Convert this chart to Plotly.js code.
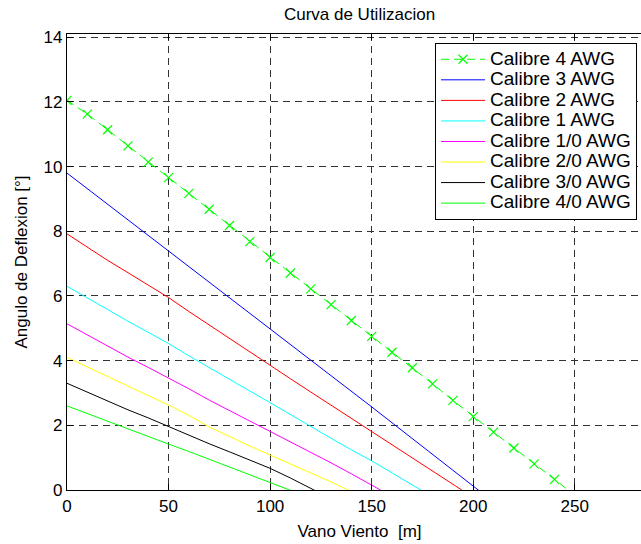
<!DOCTYPE html>
<html>
<head>
<meta charset="utf-8">
<script src="https://cdn.plot.ly/plotly-3.0.1.min.js"></script>
<style>
  html, body { margin: 0; padding: 0; overflow: hidden; background: #fff; }
  #chart { width: 655px; height: 544px; }
</style>
</head>
<body>
<div id="chart"></div>
<script>
// Vano Viento [m]
const vano = [0, 10, 20, 30, 40, 50, 60, 70, 80, 90, 100, 110, 120, 130, 140, 150, 160, 170, 180, 190, 200, 210, 220, 230, 240, 250];

const seriesNames = ['Calibre 4 AWG', 'Calibre 3 AWG', 'Calibre 2 AWG', 'Calibre 1 AWG',
                     'Calibre 1/0 AWG', 'Calibre 2/0 AWG', 'Calibre 3/0 AWG', 'Calibre 4/0 AWG'];

// Angulo de Deflexion [°]
const cal4AWG  = [12.05, 11.62, 11.14, 10.64, 10.14, 9.66, 9.17, 8.68, 8.18, 7.68, 7.19, 6.71, 6.22, 5.73, 5.24, 4.75, 4.26, 3.78, 3.28, 2.77, 2.27, 1.79, 1.30, 0.81, 0.33, -0.16];
const cal3AWG  = [9.80, 9.32, 8.84, 8.36, 7.88, 7.40, 6.92, 6.44, 5.96, 5.48, 5.00, 4.51, 4.03, 3.54, 3.06, 2.57, 2.08, 1.59, 1.10, 0.61, 0.12, -0.37];
const cal2AWG  = [7.92, 7.50, 7.10, 6.72, 6.33, 5.95, 5.52, 5.10, 4.68, 4.26, 3.85, 3.44, 3.03, 2.62, 2.21, 1.80, 1.39, 0.98, 0.58, 0.18, -0.23];
const cal1AWG  = [6.30, 5.93, 5.58, 5.22, 4.88, 4.53, 4.15, 3.78, 3.42, 3.06, 2.70, 2.33, 1.95, 1.60, 1.24, 0.90, 0.53, 0.15, -0.22];
const cal1_0   = [5.14, 4.79, 4.45, 4.11, 3.79, 3.47, 3.13, 2.78, 2.46, 2.14, 1.82, 1.50, 1.17, 0.84, 0.50, 0.15, -0.20];
const cal2_0   = [4.10, 3.80, 3.50, 3.20, 2.92, 2.63, 2.31, 1.95, 1.65, 1.36, 1.08, 0.81, 0.54, 0.25, -0.05];
const cal3_0   = [3.30, 3.02, 2.76, 2.48, 2.23, 1.96, 1.69, 1.43, 1.18, 0.92, 0.67, 0.37, 0.04, -0.27];
const cal4_0   = [2.60, 2.36, 2.12, 1.89, 1.66, 1.42, 1.19, 0.95, 0.71, 0.47, 0.24, -0.01, -0.25];

const xTicks = [0, 50, 100, 150, 200, 250];
const yTicks = [0, 2, 4, 6, 8, 10, 12, 14];

const allValues = [cal4AWG, cal3AWG, cal2AWG, cal1AWG, cal1_0, cal2_0, cal3_0, cal4_0];
const colors = ['#00ff00', '#0000ff', '#ff0000', '#00ffff', '#ff00ff', '#ffff00', '#000000', '#00ff00'];

const FONT = 'Liberation Sans, Arial, sans-serif';

const traces = allValues.map((vals, i) => {
  const t = {
    type: 'scatter',
    x: vano.slice(0, vals.length),
    y: vals,
    name: '<span style="font-size:19px">' + seriesNames[i] + '</span>',
    mode: i === 0 ? 'lines+markers' : 'lines',
    line: { color: colors[i], width: 1 },
    hoverinfo: 'x+y'
  };
  if (i === 0) {
    t.line.dash = '8px,5px';
    t.marker = { symbol: 'x-thin-open', size: 9, color: colors[i], line: { color: colors[i], width: 1.2 } };
  }
  return t;
});

const axisCommon = {
  showline: true,
  linecolor: '#000',
  linewidth: 1.2,
  mirror: 'ticks',
  ticks: 'inside',
  ticklen: 6,
  tickcolor: '#000',
  tickwidth: 1,
  showgrid: true,
  gridcolor: '#333',
  gridwidth: 1,
  griddash: '7px,5px',
  zeroline: false,
  tickfont: { family: FONT, size: 17, color: '#000' }
};

const layout = {
  width: 655,
  height: 544,
  margin: { l: 67, r: 3, t: 34, b: 54 },
  paper_bgcolor: '#fff',
  plot_bgcolor: '#fff',
  showlegend: true,
  title: {
    text: 'Curva de Utilizacion',
    font: { family: FONT, size: 17, color: '#000' },
    xref: 'paper', x: 0.5, xanchor: 'center',
    yref: 'container', y: 1 - 14 / 544, yanchor: 'middle'
  },
  xaxis: Object.assign({}, axisCommon, {
    range: [0, 288],
    tickvals: xTicks,
    ticktext: xTicks.map(String),
    title: { text: 'Vano Viento  [m]', font: { family: FONT, size: 17, color: '#000' }, standoff: 10 }
  }),
  yaxis: Object.assign({}, axisCommon, {
    range: [0, 14.1],
    tickvals: yTicks,
    ticktext: yTicks.map(String),
    title: { text: 'Angulo de Deflexion [°]', font: { family: FONT, size: 17, color: '#000' }, standoff: 11 }
  }),
  legend: {
    x: (637 - 67) / 585, xanchor: 'right',
    y: (490 - 43) / 456, yanchor: 'top',
    bgcolor: '#fff',
    bordercolor: '#000',
    borderwidth: 1,
    font: { family: FONT, size: 13.5, color: '#000' },
    itemwidth: 44,
    tracegroupgap: 0
  }
};

Plotly.newPlot('chart', traces, layout, { staticPlot: true, displayModeBar: false });
</script>
</body>
</html>
